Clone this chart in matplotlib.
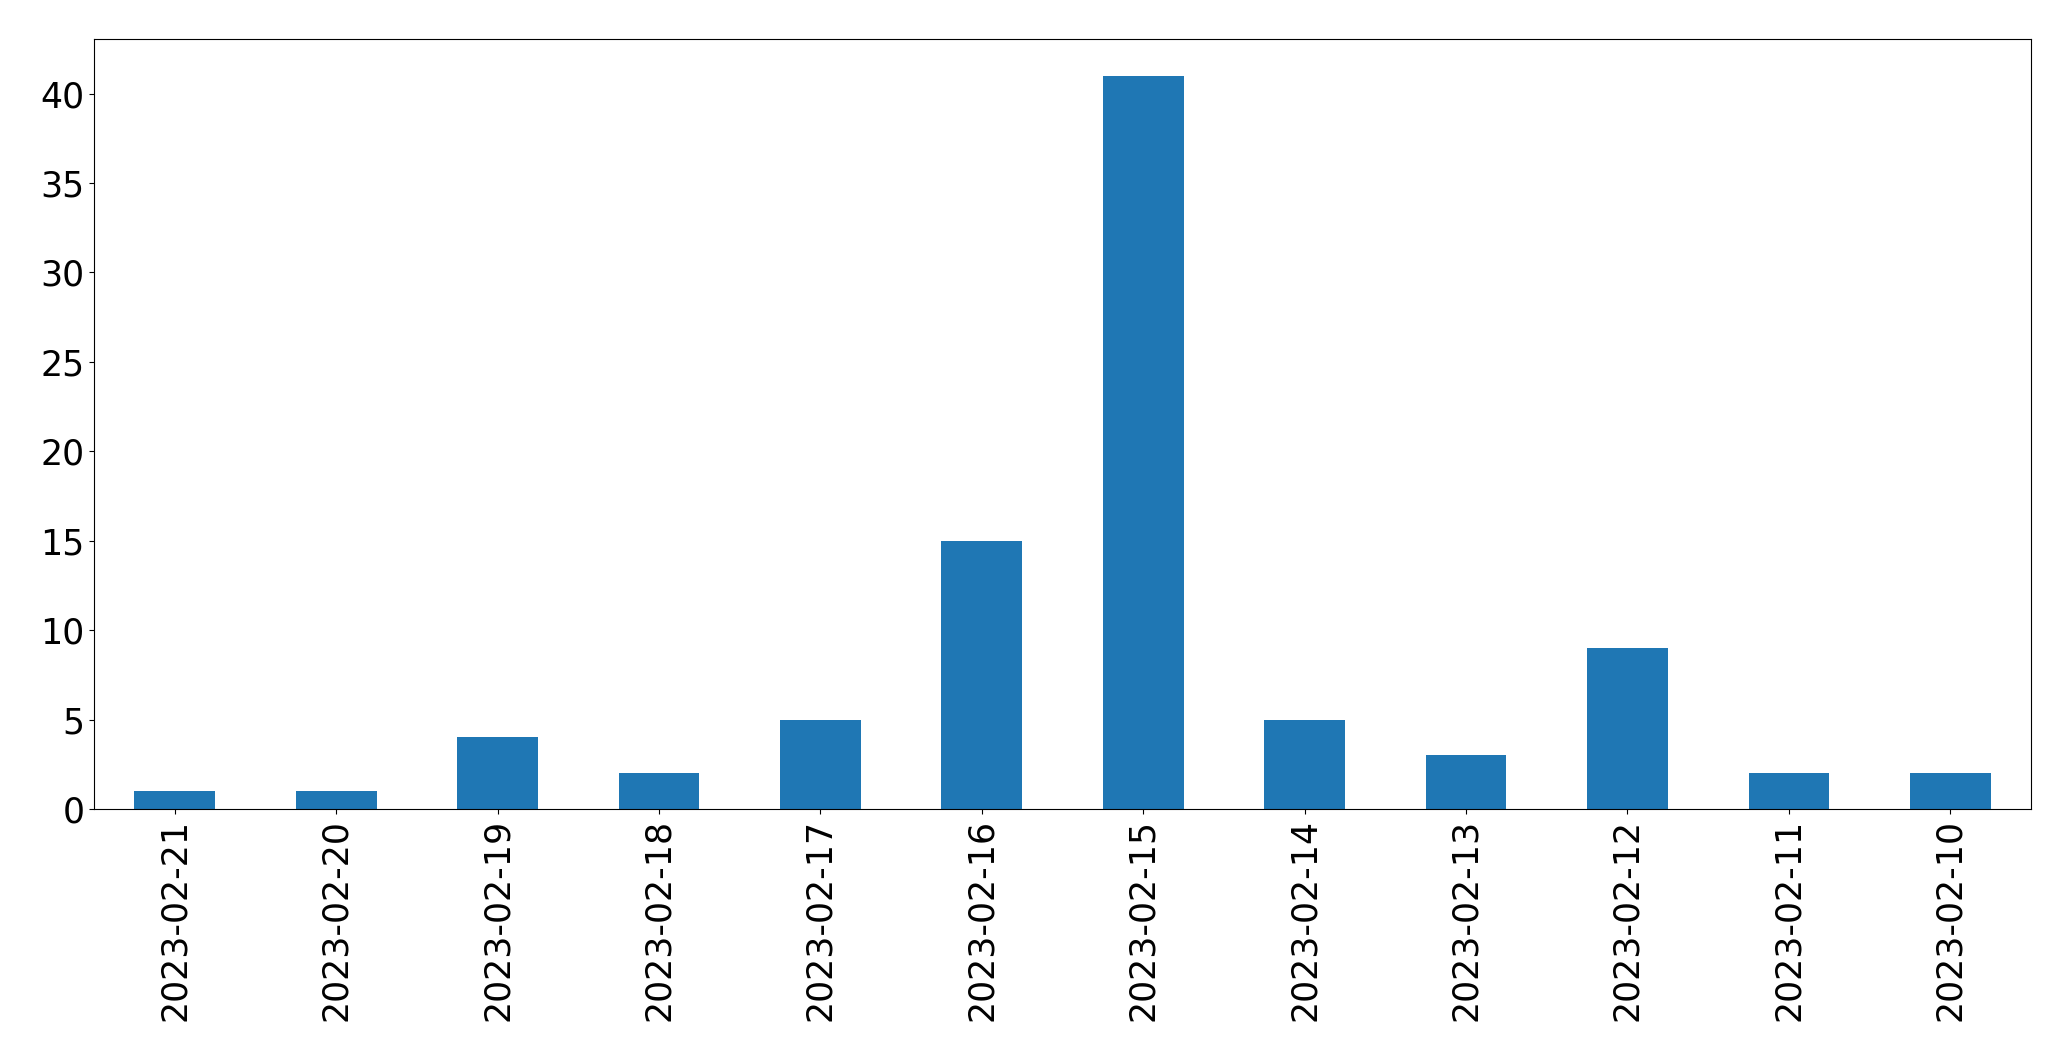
import matplotlib
matplotlib.use("Agg")
import matplotlib.pyplot as plt
import numpy as np

dates = ["2023-02-21", "2023-02-20", "2023-02-19", "2023-02-18", "2023-02-17",
         "2023-02-16", "2023-02-15", "2023-02-14", "2023-02-13", "2023-02-12",
         "2023-02-11", "2023-02-10"]
counts = [1, 1, 4, 2, 5, 15, 41, 5, 3, 9, 2, 2]

fig, ax = plt.subplots(figsize=(20.71, 10.61), dpi=100)
x = np.arange(len(dates))
ax.bar(x, counts, width=0.5, color="#1f77b4")
ax.set_xticks(x)
ax.set_xticklabels(dates, rotation=90)
ax.set_xlim(-0.5, len(dates) - 0.5)
ax.set_ylim(0, max(counts) * 1.05)
ax.tick_params(labelsize=25)

plt.subplots_adjust(left=0.0454, right=0.9807, top=0.9632, bottom=0.2375)
plt.savefig("out.png", dpi=100)
